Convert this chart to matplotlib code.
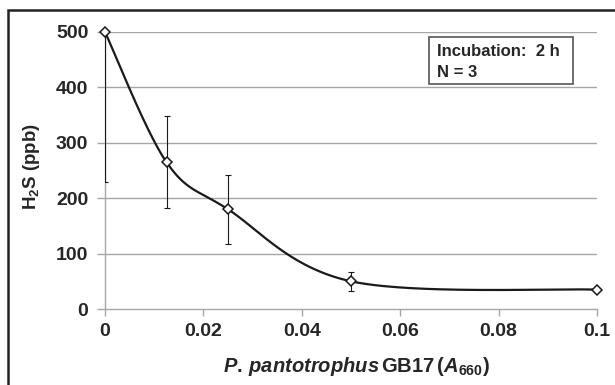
import numpy as np
import matplotlib
matplotlib.use('Agg')
import matplotlib.pyplot as plt
from matplotlib.patches import Rectangle

# Datos
absorbance = [0.0, 0.0125, 0.025, 0.05, 0.1]
h2s_ppb = [500, 265, 180, 50, 35]
h2s_err = [270, 83, 62, 17, 0]

x_ticks = [0, 0.02, 0.04, 0.06, 0.08, 0.1]
x_tick_labels = ['0', '0.02', '0.04', '0.06', '0.08', '0.1']
y_ticks = [0, 100, 200, 300, 400, 500]

plt.rcParams['font.family'] = ['Liberation Sans', 'DejaVu Sans']
plt.rcParams['font.weight'] = 'bold'
plt.rcParams['mathtext.fontset'] = 'custom'
plt.rcParams['mathtext.rm'] = 'Liberation Sans:bold'
plt.rcParams['mathtext.it'] = 'Liberation Sans:italic:bold'
plt.rcParams['mathtext.bf'] = 'Liberation Sans:bold'

TEXT = '#262626'
GRID = '#a6a6a6'
W, H = 615, 385


def smooth_curve(xs, ys, sx, sy, n=60):
    """Curva suavizada tipo Excel (Bezier con tangentes de vecinos)."""
    px = np.array(xs) * sx
    py = np.array(ys) * sy
    out_x, out_y = [], []
    t = np.linspace(0, 1, n)
    for i in range(len(px) - 1):
        p0 = np.array([px[i], py[i]])
        p3 = np.array([px[i + 1], py[i + 1]])
        prev = np.array([px[i - 1], py[i - 1]]) if i > 0 else p0
        nxt = np.array([px[i + 2], py[i + 2]]) if i + 2 < len(px) else p3
        p1 = p0 + (p3 - prev) / 6
        p2 = p3 - (nxt - p0) / 6
        seg = ((1 - t) ** 3)[:, None] * p0 + (3 * (1 - t) ** 2 * t)[:, None] * p1 \
            + (3 * (1 - t) * t ** 2)[:, None] * p2 + (t ** 3)[:, None] * p3
        out_x.extend(seg[:, 0])
        out_y.extend(seg[:, 1])
    return np.array(out_x) / sx, np.array(out_y) / sy


fig = plt.figure(figsize=(W / 100, H / 100), dpi=100)
ax = fig.add_axes([105 / W, 1 - 309 / H, 492 / W, 277 / H])

for y in y_ticks[1:]:
    ax.axhline(y, color=GRID, lw=1, zorder=1)

cx, cy = smooth_curve(absorbance, h2s_ppb, 492 / 0.1, 277 / 500)
ax.plot(cx, cy, color='#1a1a1a', lw=1.6, zorder=3, clip_on=False)

ax.errorbar(absorbance, h2s_ppb, yerr=h2s_err, fmt='none', ecolor='#1a1a1a',
            elinewidth=0.8, capsize=2.3, capthick=0.8, zorder=3)
ax.plot(absorbance, h2s_ppb, linestyle='none', marker='D', markersize=5.5,
        markerfacecolor='white', markeredgecolor='#1a1a1a', markeredgewidth=1.1,
        zorder=4, clip_on=False)

ax.set_xlim(0, 0.1)
ax.set_ylim(0, 500)
ax.set_xticks(x_ticks)
ax.set_xticklabels(x_tick_labels)
ax.set_yticks(y_ticks)
for side in ['top', 'right']:
    ax.spines[side].set_visible(False)
for side in ['left', 'bottom']:
    ax.spines[side].set_color(GRID)
    ax.spines[side].set_linewidth(1)
ax.tick_params(axis='both', colors=GRID, labelcolor=TEXT, labelsize=14, width=1)
ax.tick_params(axis='x', length=5, pad=5)
ax.tick_params(axis='y', length=6, pad=6)

fig.text(31 / W, 1 - 166 / H, 'H$_2$S (ppb)', rotation=90, ha='center',
         va='center', fontsize=13.5, color=TEXT)
fig.text(356 / W, 1 - 372 / H,
         r'$\mathit{P.\,pantotrophus}\,\mathrm{GB17\,(}\mathit{A}_{\mathrm{660}}\mathrm{)}$',
         ha='center', va='baseline', fontsize=14.5, color=TEXT)

# recuadro de condiciones
ax.add_patch(Rectangle(((429 - 105) / 492, (309 - 84) / 277), 144 / 492, 47 / 277,
                       transform=ax.transAxes, fill=False, edgecolor='#555555',
                       linewidth=1.2, zorder=5, clip_on=False))
ax.text((437 - 105) / 492, (309 - 56) / 277, 'Incubation:  2 h', transform=ax.transAxes,
        fontsize=12, color=TEXT, va='baseline', ha='left', zorder=6)
ax.text((437 - 105) / 492, (309 - 77) / 277, 'N = 3', transform=ax.transAxes,
        fontsize=12, color=TEXT, va='baseline', ha='left', zorder=6)

# marco exterior recortado
fig.add_artist(Rectangle((8 / W, -0.1), 1.2, 1.0 - 10 / H + 0.1,
                         transform=fig.transFigure, fill=False,
                         edgecolor='#222222', linewidth=1.8))

fig.savefig('out.png', dpi=100)
